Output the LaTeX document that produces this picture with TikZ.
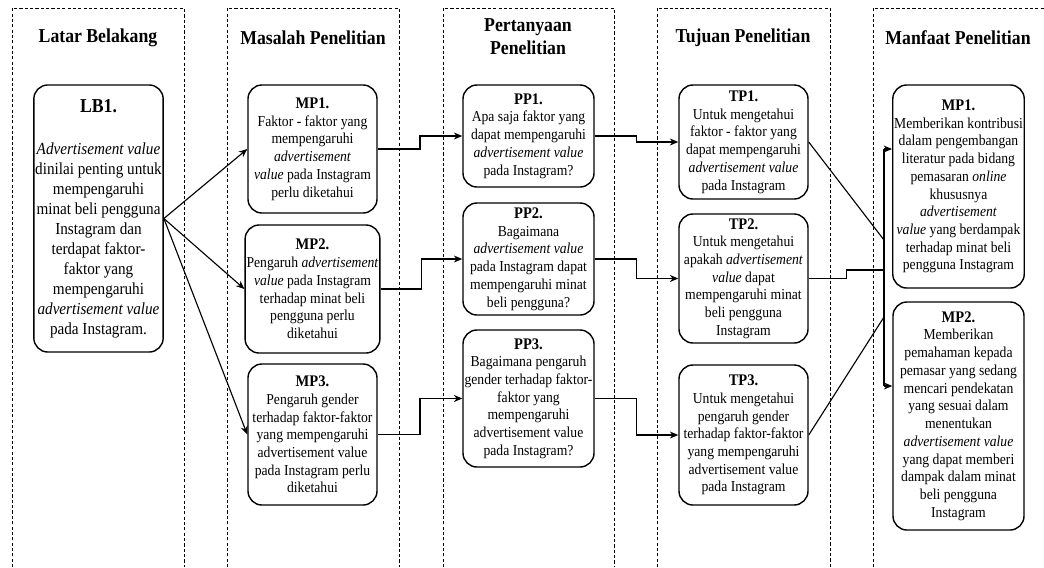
\documentclass[tikz,border=0pt]{standalone}
\usepackage{fontspec}
\setmainfont{Liberation Serif}[FakeStretch=0.9, BoldFont={Liberation Serif Bold}, ItalicFont={Liberation Serif Italic}, BoldItalicFont={Liberation Serif Bold Italic}]
\usepackage{tikz}
\usetikzlibrary{arrows.meta, calc}

\newcommand{\boxhead}[1]{{\fontsize{11.5}{13.5}\selectfont\bfseries #1}}

\begin{document}
\begin{tikzpicture}[
    x=0.025cm, y=-0.025cm,
    lane/.style={draw, dash pattern=on 2.2pt off 1.6pt, line width=0.6pt},
    lanetitle/.style={font=\fontsize{14}{16.5}\selectfont\bfseries, align=center},
    box/.style={rectangle, rounded corners=10pt, draw, line width=1pt, minimum width=3.225cm, align=center, inner sep=1pt, font=\fontsize{10.8}{12.6}\selectfont},
    arrow/.style={-{Stealth[length=6pt,width=5pt]}, line width=0.8pt},
    link/.style={line width=0.8pt}
]
\useasboundingbox (0,0) rectangle (1044,567);

% Dashed lanes
\foreach \l/\r in {12/184, 227/399, 443/614, 657/830}
    \draw[lane] (\l,567) |- (\r,8) -- (\r,567);
\draw[lane] (873,567) |- (1050,8);

% Lane titles
\node[lanetitle] (t1) at (98,38) {Latar Belakang};
\node[lanetitle] (t2) at (313,38) {Masalah Penelitian};
\node[lanetitle] (t3) at (528,37) {Pertanyaan\\Penelitian};
\node[lanetitle] (t4) at (743,38) {Tujuan Penelitian};
\node[lanetitle] (t5) at (958,38) {Manfaat Penelitian};

% Latar belakang
\node[box, minimum width=3.175cm, minimum height=6.675cm, font=\fontsize{12}{14.2}\selectfont] (lb1) at (98.5,218.5)
    {{\fontsize{14}{16}\selectfont\bfseries LB1.}\\[16pt]
     \textit{Advertisement value}\\dinilai penting untuk\\mempengaruhi\\minat beli pengguna\\Instagram dan\\terdapat faktor-\\faktor yang\\mempengaruhi\\\textit{advertisement value}\\pada Instagram.};

% Masalah penelitian
\node[box, minimum height=3.2cm] (mp1) at (312.5,149)
    {\boxhead{MP1.}\\Faktor - faktor yang\\mempengaruhi\\\textit{advertisement}\\\textit{value} pada Instagram\\perlu diketahui};
\node[box, minimum height=3.2cm] (mp2) at (312.5,289)
    {\boxhead{MP2.}\\Pengaruh \textit{advertisement}\\\textit{value} pada Instagram\\terhadap minat beli\\pengguna perlu\\diketahui};
\node[box, minimum height=3.525cm] (mp3) at (312.5,434.5)
    {\boxhead{MP3.}\\Pengaruh gender\\terhadap faktor-faktor\\yang mempengaruhi\\advertisement value\\pada Instagram perlu\\diketahui};

% Pertanyaan penelitian
\node[box, minimum width=3.275cm, minimum height=2.55cm] (pp1) at (528.5,136)
    {\boxhead{PP1.}\\Apa saja faktor yang\\dapat mempengaruhi\\\textit{advertisement value}\\pada Instagram?};
\node[box, minimum width=3.275cm, minimum height=2.8cm] (pp2) at (528.5,259)
    {\boxhead{PP2.}\\Bagaimana\\\textit{advertisement value}\\pada Instagram dapat\\mempengaruhi minat\\beli pengguna?};
\node[box, minimum width=3.275cm, minimum height=3.425cm] (pp3) at (528.5,398.5)
    {\boxhead{PP3.}\\Bagaimana pengaruh\\gender terhadap faktor-\\faktor yang\\mempengaruhi\\advertisement value\\pada Instagram?};

% Tujuan penelitian
\node[box, minimum height=2.85cm] (tp1) at (743.5,142)
    {\boxhead{TP1.}\\Untuk mengetahui\\faktor - faktor yang\\dapat mempengaruhi\\\textit{advertisement value}\\pada Instagram};
\node[box, minimum height=3.225cm] (tp2) at (743.5,278.5)
    {\boxhead{TP2.}\\Untuk mengetahui\\apakah \textit{advertisement}\\\textit{value} dapat\\mempengaruhi minat\\beli pengguna\\Instagram};
\node[box, minimum height=3.5cm] (tp3) at (743.5,435)
    {\boxhead{TP3.}\\Untuk mengetahui\\pengaruh gender\\terhadap faktor-faktor\\yang mempengaruhi\\advertisement value\\pada Instagram};

% Manfaat penelitian
\node[box, minimum width=3.275cm, minimum height=5.075cm] (mb1) at (958.5,186.5)
    {\boxhead{MP1.}\\Memberikan kontribusi\\dalam pengembangan\\literatur pada bidang\\pemasaran \textit{online}\\khususnya\\\textit{advertisement}\\\textit{value} yang berdampak\\terhadap minat beli\\pengguna Instagram};
\node[box, minimum width=3.275cm, minimum height=5.7cm] (mb2) at (958.5,416)
    {\boxhead{MP2.}\\Memberikan\\pemahaman kepada\\pemasar yang sedang\\mencari pendekatan\\yang sesuai dalam\\menentukan\\\textit{advertisement value}\\yang dapat memberi\\dampak dalam minat\\beli pengguna\\Instagram};

% Fan out from the background
\foreach \b in {mp1, mp2, mp3}
    \draw[arrow] (lb1.east) -- (\b.west);

% Elbow arrows between lanes
\foreach \a/\b in {mp1/pp1, mp2/pp2, mp3/pp3, pp1/tp1, pp2/tp2, pp3/tp3}
    \draw[arrow] (\a.east) -| ($(\a.east)!0.5!(\b.west)$) |- (\b.west);

% Collector line into the benefits
\coordinate (j1) at (884,240);
\coordinate (j2) at (884,270);
\coordinate (j3) at (884,317);
\coordinate (bt) at (884,149);
\coordinate (bb) at (884,386);
\draw[link] (tp1.east) -- (j1);
\draw[link] (tp2.east) -| ($(tp2.east)!0.5!(j2)$) |- (j2);
\draw[link] (tp3.east) -- (j3);
\draw[link] (bt) -- (bb);
\draw[arrow] (bt) -- (bt -| mb1.west);
\draw[arrow] (bb) -- (bb -| mb2.west);

\end{tikzpicture}
\end{document}
